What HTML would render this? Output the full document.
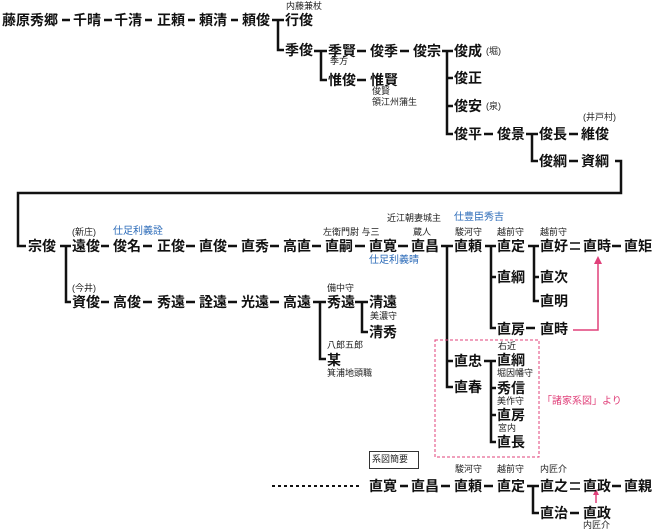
<!DOCTYPE html>
<html><head><meta charset="utf-8"><style>
html,body{margin:0;padding:0;background:#fff;}
#c{position:relative;width:653px;height:531px;overflow:hidden;font-family:"Liberation Sans","Noto Sans CJK JP",sans-serif;}
.n{position:absolute;font-size:14px;font-weight:bold;line-height:18px;white-space:nowrap;color:#111;letter-spacing:0px;}
.s{position:absolute;font-size:9px;line-height:11px;white-space:nowrap;color:#222;}
.b{color:#2a6ab8;font-size:10px;}
.p{color:#e0407a;font-size:10px;}
svg{position:absolute;left:0;top:0;}
</style></head><body><div id="c">
<svg width="653" height="531" stroke="#111" stroke-width="2.5" fill="none">
<!-- row1 dashes -->
<path d="M62 20H70M104 20H112M145 20H152M188 20H195M231 20H238"/>
<path d="M272 20H284M278 20V50H284"/>
<path d="M314 51H327M321 51V80H327"/>
<path d="M357 51H366M400 51H409M357 80H366"/>
<path d="M442 51H453M447 51V134H453M447 78H453M447 106H453"/>
<path d="M484 134H493M526 134H538M532 134V161H538M569 134H578M569 161H578"/>
<path d="M615 161H621V193H18V246H26"/>
<!-- row3 -->
<path d="M60 246H71M66 246V302H71"/>
<path d="M101 246H109M143 246H152M186 246H195M228 246H237M270 246H279M312 246H321M355 246H365M398 246H408"/>
<path d="M441 246H453M447 246V387H453M447 361H453"/>
<path d="M485 246H496M491 246V328H496M491 277H496"/>
<path d="M528 246H539M534 246V301H539M534 277H539"/>
<path d="M612 246H621M526 328H535"/>
<!-- row4 -->
<path d="M101 302H109M143 302H152M186 302H195M228 302H237M270 302H279"/>
<path d="M313 302H326M320 302V359H326"/>
<path d="M355 302H368M362 302V332H368"/>
<path d="M484 361H496M491 361V442H496M491 388H496M491 415H496"/>
<!-- bottom -->
<path d="M400 486H408M441 486H450M484 486H493M612 486H621M570 513H579"/>
<path d="M527 486H539M533 486V513H539"/>
<path d="M272 486H362" stroke-dasharray="3 3" stroke-width="2"/>
<!-- equals -->
<path d="M570 243H580M570 249H580M570 483H580M570 489H580" stroke-width="1.5"/>
<!-- pink -->
<path d="M573 330H598V262" stroke="#e0407a" stroke-width="1.5"/>
<path d="M594 264L598 256L602 264Z" fill="#e0407a" stroke="none"/>
<path d="M596 503V494" stroke="#e0407a" stroke-width="1.5"/>
<path d="M593 495L596 489L599 495Z" fill="#e0407a" stroke="none"/>
<rect x="435" y="340" width="104" height="117" stroke="#e0407a" stroke-width="1" stroke-dasharray="3 2"/>
<rect x="369.5" y="451.5" width="49" height="17" stroke="#333" stroke-width="1"/>
</svg>

<span class="n" style="left:2px;top:11px">藤原秀郷</span>
<span class="n" style="left:73px;top:11px">千晴</span>
<span class="n" style="left:114px;top:11px">千清</span>
<span class="n" style="left:157px;top:11px">正頼</span>
<span class="n" style="left:199px;top:11px">頼清</span>
<span class="n" style="left:242px;top:11px">頼俊</span>
<span class="s" style="left:286px;top:1px">内藤兼杖</span>
<span class="n" style="left:285px;top:11px">行俊</span>
<span class="n" style="left:285px;top:41px">季俊</span>
<span class="n" style="left:328px;top:42px">季賢</span>
<span class="s" style="left:330px;top:56px">季方</span>
<span class="n" style="left:328px;top:71px">惟俊</span>
<span class="n" style="left:370px;top:42px">俊季</span>
<span class="n" style="left:370px;top:71px">惟賢</span>
<span class="s" style="left:372px;top:86px">俊賢</span>
<span class="s" style="left:372px;top:97px">領江州蒲生</span>
<span class="n" style="left:413px;top:42px">俊宗</span>
<span class="n" style="left:454px;top:42px">俊成</span><span class="s" style="left:486px;top:46px">(堀)</span>
<span class="n" style="left:454px;top:69px">俊正</span>
<span class="n" style="left:454px;top:97px">俊安</span><span class="s" style="left:486px;top:101px">(泉)</span>
<span class="n" style="left:454px;top:125px">俊平</span>
<span class="n" style="left:497px;top:125px">俊景</span>
<span class="n" style="left:539px;top:125px">俊長</span>
<span class="s" style="left:583px;top:112px">(井戸村)</span>
<span class="n" style="left:581px;top:125px">維俊</span>
<span class="n" style="left:539px;top:152px">俊綱</span>
<span class="n" style="left:581px;top:152px">資綱</span>

<span class="n" style="left:28px;top:237px">宗俊</span>
<span class="s" style="left:72px;top:227px">(新庄)</span>
<span class="s b" style="left:113px;top:226px">仕足利義詮</span>
<span class="n" style="left:72px;top:237px">遠俊</span>
<span class="n" style="left:113px;top:237px">俊名</span>
<span class="n" style="left:157px;top:237px">正俊</span>
<span class="n" style="left:199px;top:237px">直俊</span>
<span class="n" style="left:241px;top:237px">直秀</span>
<span class="n" style="left:283px;top:237px">高直</span>
<span class="s" style="left:323px;top:227px">左衛門尉 与三</span>
<span class="n" style="left:325px;top:237px">直嗣</span>
<span class="n" style="left:369px;top:237px">直寛</span>
<span class="s b" style="left:369px;top:255px">仕足利義晴</span>
<span class="s" style="left:387px;top:213px">近江朝妻城主</span>
<span class="s b" style="left:454px;top:212px">仕豊臣秀吉</span>
<span class="s" style="left:413px;top:227px">蔵人</span>
<span class="n" style="left:411px;top:237px">直昌</span>
<span class="s" style="left:455px;top:227px">駿河守</span>
<span class="n" style="left:454px;top:237px">直頼</span>
<span class="s" style="left:497px;top:227px">越前守</span>
<span class="n" style="left:497px;top:237px">直定</span>
<span class="s" style="left:540px;top:227px">越前守</span>
<span class="n" style="left:540px;top:237px">直好</span>
<span class="n" style="left:583px;top:237px">直時</span>
<span class="n" style="left:624px;top:237px">直矩</span>
<span class="n" style="left:497px;top:268px">直綱</span>
<span class="n" style="left:540px;top:268px">直次</span>
<span class="n" style="left:540px;top:292px">直明</span>
<span class="n" style="left:497px;top:320px">直房</span>
<span class="n" style="left:540px;top:320px">直時</span>

<span class="s" style="left:72px;top:283px">(今井)</span>
<span class="n" style="left:72px;top:293px">資俊</span>
<span class="n" style="left:113px;top:293px">高俊</span>
<span class="n" style="left:157px;top:293px">秀遠</span>
<span class="n" style="left:199px;top:293px">詮遠</span>
<span class="n" style="left:241px;top:293px">光遠</span>
<span class="n" style="left:283px;top:293px">高遠</span>
<span class="s" style="left:327px;top:283px">備中守</span>
<span class="n" style="left:327px;top:293px">秀遠</span>
<span class="n" style="left:369px;top:293px">清遠</span>
<span class="s" style="left:370px;top:311px">美濃守</span>
<span class="n" style="left:369px;top:323px">清秀</span>
<span class="s" style="left:327px;top:340px">八郎五郎</span>
<span class="n" style="left:327px;top:351px">某</span>
<span class="s" style="left:327px;top:368px">箕浦地頭職</span>

<span class="n" style="left:454px;top:352px">直忠</span>
<span class="n" style="left:454px;top:378px">直春</span>
<span class="s" style="left:498px;top:341px">右近</span>
<span class="n" style="left:497px;top:351px">直綱</span>
<span class="s" style="left:497px;top:368px">堀因幡守</span>
<span class="n" style="left:497px;top:379px">秀信</span>
<span class="s" style="left:497px;top:396px">美作守</span>
<span class="n" style="left:497px;top:406px">直房</span>
<span class="s" style="left:498px;top:423px">宮内</span>
<span class="n" style="left:497px;top:433px">直長</span>
<span class="s p" style="left:542px;top:396px">「諸家系図」より</span>

<span class="s" style="left:372px;top:454px">系図簡要</span>
<span class="n" style="left:369px;top:477px">直寛</span>
<span class="n" style="left:411px;top:477px">直昌</span>
<span class="s" style="left:455px;top:464px">駿河守</span>
<span class="n" style="left:454px;top:477px">直頼</span>
<span class="s" style="left:497px;top:464px">越前守</span>
<span class="n" style="left:497px;top:477px">直定</span>
<span class="s" style="left:540px;top:464px">内匠介</span>
<span class="n" style="left:540px;top:477px">直之</span>
<span class="n" style="left:583px;top:477px">直政</span>
<span class="n" style="left:624px;top:477px">直親</span>
<span class="n" style="left:540px;top:504px">直治</span>
<span class="n" style="left:583px;top:504px">直政</span>
<span class="s" style="left:583px;top:520px">内匠介</span>
</div></body></html>
